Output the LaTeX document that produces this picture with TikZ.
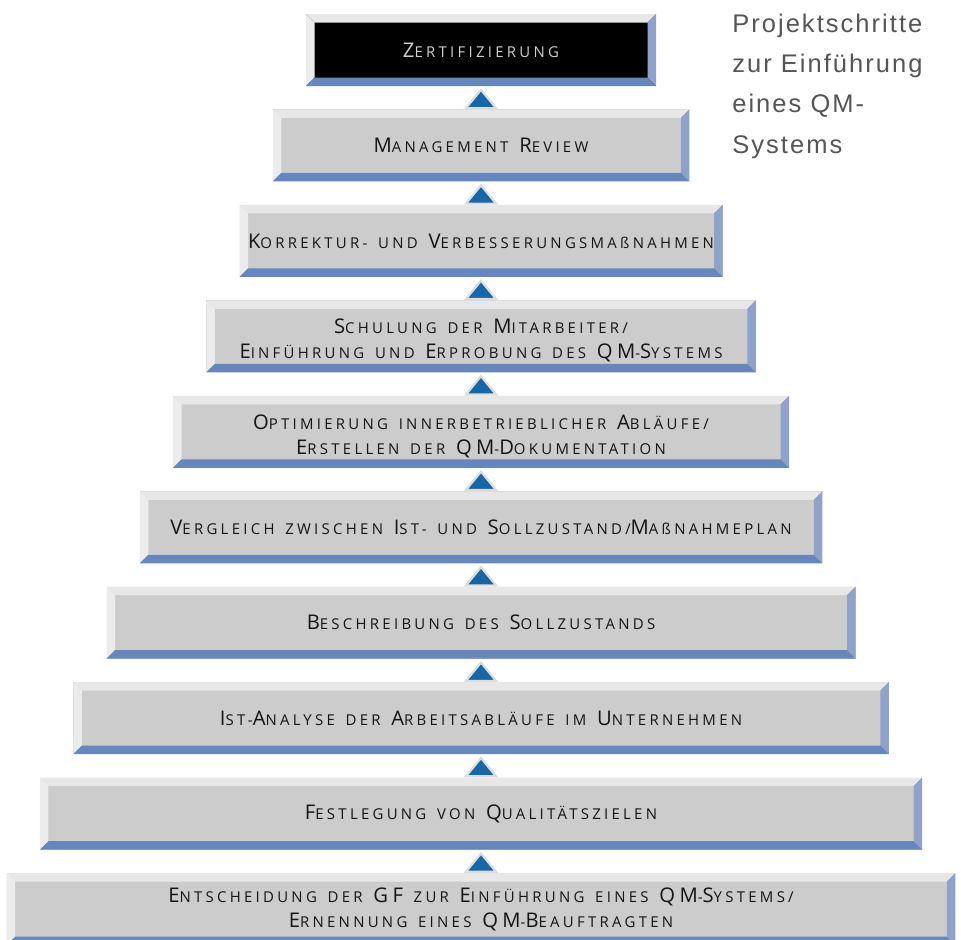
\documentclass[tikz,border=0pt]{standalone}
\usepackage{fontspec}
\usetikzlibrary{positioning}

\newfontfamily\stufenfont[LetterSpace=22,WordSpace=1.5]{Open Sans}
\newfontfamily\titelfont[LetterSpace=8]{Liberation Sans}
\newcommand\K[1]{{\fontsize{11.5}{14}\selectfont #1}}

\definecolor{flaeche}{RGB}{204,204,204}
\definecolor{kanteoben}{RGB}{231,231,231}
\definecolor{kantelinks}{RGB}{236,236,236}
\definecolor{kanterechts}{RGB}{143,162,203}
\definecolor{kanteunten}{RGB}{102,134,190}
\definecolor{pfeilblau}{RGB}{22,102,168}
\definecolor{pfeilrand}{RGB}{220,220,220}
\definecolor{schrift}{RGB}{20,20,20}
\definecolor{hellschrift}{RGB}{208,208,208}
\definecolor{titelgrau}{RGB}{85,85,85}

\tikzset{
  stufe/.style={rectangle, inner sep=0pt, minimum height=1.44cm, minimum width=#1,
    fill=flaeche, text=schrift, align=center,
    font={\stufenfont\fontsize{8.5}{14.2}\selectfont},
    path picture={
      \coordinate (nw) at (path picture bounding box.north west);
      \coordinate (ne) at (path picture bounding box.north east);
      \coordinate (sw) at (path picture bounding box.south west);
      \coordinate (se) at (path picture bounding box.south east);
      \fill[kanteoben] (nw) -- (ne) -- ([shift={(-0.17cm,-0.17cm)}]ne) -- ([shift={(0.17cm,-0.17cm)}]nw) -- cycle;
      \fill[kantelinks] (nw) -- ([shift={(0.17cm,-0.17cm)}]nw) -- ([shift={(0.17cm,0.17cm)}]sw) -- (sw) -- cycle;
      \fill[kanterechts] (ne) -- (se) -- ([shift={(-0.17cm,0.17cm)}]se) -- ([shift={(-0.17cm,-0.17cm)}]ne) -- cycle;
      \fill[kanteunten] (sw) -- (se) -- ([shift={(-0.17cm,0.17cm)}]se) -- ([shift={(0.17cm,0.17cm)}]sw) -- cycle;
    }},
  tiefer/.style={text height=27.5pt},
  spitze/.style={fill=pfeilblau, draw=pfeilrand, line width=1.2pt},
  titel/.style={inner sep=0pt, align=left, text=titelgrau,
    font={\titelfont\fontsize{14.5}{22.8}\selectfont}}
}

\begin{document}
\begin{tikzpicture}
    \useasboundingbox (0,0) rectangle (19.22,-18.78);

    % Stufen von oben nach unten
    \node[stufe=7cm, fill=black, text=hellschrift] (zert) at (9.62,-1.0) {\K{Z}ERTIFIZIERUNG};
    \node[stufe=8.33cm, below=0.455cm of zert] (review) {\K{M}ANAGEMENT \K{R}EVIEW};
    \node[stufe=9.66cm, below=0.455cm of review] (korrektur) {\K{K}ORREKTUR- UND \K{V}ERBESSERUNGSMAßNAHMEN};
    \node[stufe=10.99cm, tiefer, below=0.455cm of korrektur] (schulung) {\K{S}CHULUNG DER \K{M}ITARBEITER/\\\K{E}INFÜHRUNG UND \K{E}RPROBUNG DES \K{QM}-\K{S}YSTEMS};
    \node[stufe=12.32cm, tiefer, below=0.455cm of schulung] (optim) {\K{O}PTIMIERUNG INNERBETRIEBLICHER \K{A}BLÄUFE/\\\K{E}RSTELLEN DER \K{QM}-\K{D}OKUMENTATION};
    \node[stufe=13.65cm, below=0.455cm of optim] (vergleich) {\K{V}ERGLEICH ZWISCHEN \K{I}ST- UND \K{S}OLLZUSTAND/\K{M}AßNAHMEPLAN};
    \node[stufe=14.98cm, below=0.455cm of vergleich] (soll) {\K{B}ESCHREIBUNG DES \K{S}OLLZUSTANDS};
    \node[stufe=16.31cm, below=0.455cm of soll] (ist) {\K{I}ST-\K{A}NALYSE DER \K{A}RBEITSABLÄUFE IM \K{U}NTERNEHMEN};
    \node[stufe=17.64cm, below=0.455cm of ist] (ziele) {\K{F}ESTLEGUNG VON \K{Q}UALITÄTSZIELEN};
    \node[stufe=18.97cm, below=0.455cm of ziele] (gf) {\K{E}NTSCHEIDUNG DER \K{GF} ZUR \K{E}INFÜHRUNG EINES \K{QM}-\K{S}YSTEMS/\\\K{E}RNENNUNG EINES \K{QM}-\K{B}EAUFTRAGTEN};

    % Pfeile zwischen den Stufen
    \foreach \o/\u in {zert/review, review/korrektur, korrektur/schulung, schulung/optim,
        optim/vergleich, vergleich/soll, soll/ist, ist/ziele, ziele/gf}
        \filldraw[spitze] ([xshift=-0.3cm,yshift=0.02cm]\u.north) -- ([yshift=-0.07cm]\o.south)
            -- ([xshift=0.3cm,yshift=0.02cm]\u.north) -- cycle;

    \node[titel, anchor=north west] (titel) at (14.64,-0.28) {Projektschritte\\zur Einführung\\eines QM-\\Systems};
\end{tikzpicture}
\end{document}
